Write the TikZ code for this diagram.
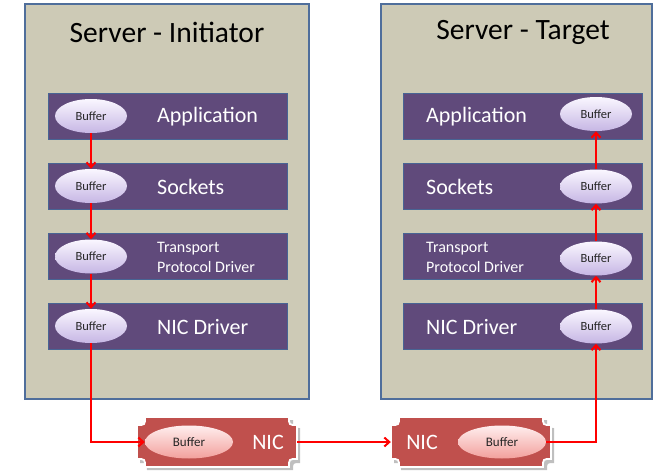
\documentclass[tikz,border=0pt]{standalone}
\usepackage{fontspec}
\setmainfont{Carlito}
\usetikzlibrary{shapes.geometric,arrows.meta}

\definecolor{serverbg}{RGB}{205,202,182}
\definecolor{serverline}{RGB}{79,110,155}
\definecolor{layerfill}{RGB}{96,74,123}
\definecolor{layerline}{RGB}{72,100,148}
\definecolor{nicred}{RGB}{192,80,77}
\definecolor{buftop}{RGB}{250,247,255}
\definecolor{bufbot}{RGB}{198,182,228}
\definecolor{nicbuftop}{RGB}{255,238,238}
\definecolor{nicbufbot}{RGB}{242,160,156}

\tikzset{
	server/.style={draw=serverline, fill=serverbg, line width=1.2pt},
	layer/.style={draw=layerline, fill=layerfill, line width=0.8pt, minimum width=239pt, minimum height=46pt, inner sep=0pt},
	layertext/.style={text=white, font=\fontsize{22}{26}\selectfont, anchor=west, inner sep=0pt},
	smalltext/.style={text=white, font=\fontsize{16}{20}\selectfont, anchor=west, align=left, inner sep=0pt},
	buffer/.style={ellipse, top color=buftop, bottom color=bufbot, minimum width=72pt, minimum height=34pt, inner sep=0pt, text=black!85, font=\fontsize{12.5}{14}\selectfont},
	nicbuffer/.style={buffer, top color=nicbuftop, bottom color=nicbufbot, minimum width=88pt, minimum height=33pt, font=\fontsize{13}{15}\selectfont},
	plaque/.style={fill=nicred, draw=white, line width=1.8pt},
	flow/.style={draw=red, line width=2pt, -{Straight Barb[length=5pt, width=9pt]}}
}

\begin{document}
\begin{tikzpicture}[x=1pt, y=-1pt]
	\useasboundingbox (0,0) rectangle (654,474);
	% servers
	\draw[server] (25,4) rectangle (309,399);
	\draw[server] (381,4) rectangle (652,399);
	\node[font=\fontsize{29.5}{34}\selectfont] (titleL) at (167,32) {Server - Initiator};
	\node[font=\fontsize{29.5}{34}\selectfont] (titleR) at (523,32) {Server - Target};
	% initiator layers
	\node[layer] (appL) at (167.5,116) {};
	\node[layer] (sockL) at (167.5,186) {};
	\node[layer] (transL) at (167.5,256.5) {};
	\node[layer] (drvL) at (167.5,326) {};
	\node[layertext] (appLtxt) at (157,117) {Application};
	\node[layertext] (sockLtxt) at (157,187) {Sockets};
	\node[smalltext] (transLtxt) at (157,257) {Transport\\Protocol Driver};
	\node[layertext] (drvLtxt) at (157,327) {NIC Driver};
	\node[buffer] (bufL1) at (91,116) {Buffer};
	\node[buffer] (bufL2) at (91,186) {Buffer};
	\node[buffer] (bufL3) at (91,256.5) {Buffer};
	\node[buffer] (bufL4) at (91,326) {Buffer};
	% target layers
	\node[layer] (appR) at (523,116) {};
	\node[layer] (sockR) at (523,186) {};
	\node[layer] (transR) at (523,256.5) {};
	\node[layer] (drvR) at (523,326) {};
	\node[layertext] (appRtxt) at (426,117) {Application};
	\node[layertext] (sockRtxt) at (426,187) {Sockets};
	\node[smalltext] (transRtxt) at (426,257) {Transport\\Protocol Driver};
	\node[layertext] (drvRtxt) at (426,327) {NIC Driver};
	\node[buffer] (bufR1) at (596,114) {Buffer};
	\node[buffer] (bufR2) at (596,186.5) {Buffer};
	\node[buffer] (bufR3) at (596,258.5) {Buffer};
	\node[buffer] (bufR4) at (596,326.5) {Buffer};
	% network cards
	\foreach \x in {137,391} {
		\fill[black!25] (\x+10,420) -- (\x+156,420) .. controls (\x+156,428) .. (\x+163,428) -- (\x+163,463) .. controls (\x+156,463) .. (\x+156,470) -- (\x+10,470) .. controls (\x+10,463) .. (\x+3,463) -- (\x+3,428) .. controls (\x+10,428) .. (\x+10,420) -- cycle;
		\draw[plaque] (\x+8,417) -- (\x+152,417) .. controls (\x+152,425) .. (\x+160,425) -- (\x+160,459) .. controls (\x+152,459) .. (\x+152,467) -- (\x+8,467) .. controls (\x+8,459) .. (\x,459) -- (\x,425) .. controls (\x+8,425) .. (\x+8,417) -- cycle;
	}
	\node[minimum width=160pt, minimum height=50pt, inner sep=0pt] (nicL) at (217,442) {};
	\node[minimum width=160pt, minimum height=50pt, inner sep=0pt] (nicR) at (471,442) {};
	\node[nicbuffer] (nicbufL) at (189,442) {Buffer};
	\node[nicbuffer] (nicbufR) at (502,442) {Buffer};
	\node[text=white, font=\fontsize{22}{26}\selectfont] (nicLtxt) at (268,442) {NIC};
	\node[text=white, font=\fontsize{22}{26}\selectfont] (nicRtxt) at (422,442) {NIC};
	% data path
	\draw[flow] (bufL1) -- (bufL2);
	\draw[flow] (bufL2) -- (bufL3);
	\draw[flow] (bufL3) -- (bufL4);
	\draw[flow] (bufL4) |- (nicbufL);
	\draw[flow] (nicL) -- (nicR);
	\draw[flow] (nicbufR) -| (bufR4);
	\draw[flow] (bufR4) -- (bufR3);
	\draw[flow] (bufR3) -- (bufR2);
	\draw[flow] (bufR2) -- (bufR1);
\end{tikzpicture}
\end{document}
